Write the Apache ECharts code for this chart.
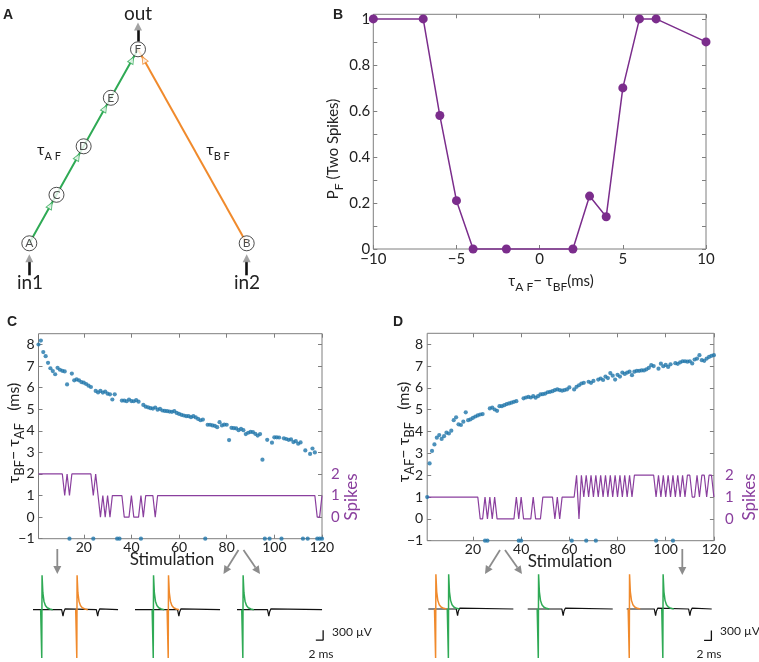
<!DOCTYPE html>
<html><head><meta charset="utf-8">
<script src="https://cdn.jsdelivr.net/npm/echarts@6/dist/echarts.min.js"></script>
<style>html,body{margin:0;padding:0;background:#fff}#c{width:759px;height:662px}</style>
</head><body><div id="c"></div>
<script>
// ================= DATA =================
// Panel A : network diagram (abstract diagram units)
const nodeNames = ['A', 'C', 'D', 'E', 'F', 'B'];
const nodeX = [0, 1, 2, 3, 4, 8];
const nodeY = [0, 1, 2, 3, 4, 0];
const greenPath = ['A', 'C', 'D', 'E', 'F'];
const orangePath = ['B', 'F'];
const greenHeadFrac = 0.78;   // arrowhead position along each green segment
const orangeHeadFrac = 0.947; // arrowhead position along B->F

// Panel B
const bX = [-10, -7, -6, -5, -4, -2, 2, 3, 4, 5, 6, 7, 10];
const bY = [1, 1, 0.58, 0.21, 0, 0, 0, 0.23, 0.14, 0.70, 1, 1, 0.9];
const bXTicks = [-10, -5, 0, 5, 10];
const bYTicks = [0, 0.1, 0.2, 0.3, 0.4, 0.5, 0.6, 0.7, 0.8, 0.9, 1];
const bYLabels = [0, 0.2, 0.4, 0.6, 0.8, 1];

// Panels C / D (stimulation 1..120)
const stimTicks = [20, 40, 60, 80, 100, 120];
const tauTicks = [-1, 0, 1, 2, 3, 4, 5, 6, 7, 8];
const spikeLabels = [0, 1, 2];
const cTau = [
 8.00, 8.18, 7.65, 7.46, 7.15, 6.90, 6.77, 6.62, 6.92, 6.83,
 6.78, 6.75, 6.15, -1, 6.65, 6.34, 6.38, 6.34, 6.26, 6.23,
 6.17, 6.09, 6.03, -1, 5.85, 5.78, 5.85, 5.77, 5.82, 5.72,
 5.69, 5.45, 5.69, -1, -1, 5.40, 5.40, 5.37, 5.45, 5.38,
 5.37, 5.42, 5.35, -1, 5.20, 5.12, 5.09, 5.05, 5.03, 5.08,
 4.98, 5.02, 4.94, 4.92, 4.91, 4.89, 4.88, 4.91, 4.83, 4.78,
 4.74, 4.71, 4.68, 4.68, 4.63, 4.68, 4.62, 4.55, 4.49, 4.52,
 -1, 4.28, 4.28, 4.25, 4.23, 4.17, 4.40, 4.25, 4.29, 4.28,
 3.57, 4.14, 4.12, 4.11, 4.03, 4.09, 4.03, 3.85, 3.91, 3.95,
 3.94, 3.86, 3.78, 3.85, 2.66, -1, 3.58, -1, 3.45, 3.70,
 3.70, 3.69, -1, 3.65, 3.62, 3.58, 3.60, 3.48, 3.52, 3.40,
 3.46, -1, 3.09, -1, 2.93, 3.18, 3.00, -1, -1, -1];
const cSpikes = [
 2,2,2,2,2,2,2,2,2,2,
 2,1,2,1,2,2,2,2,2,2,
 2,2,2,1,2,1,0,1,0,1,
 0,1,1,1,1,1,0,0,0,1,
 0,0,0,1,0,1,1,1,1,0,
 1,1,1,1,1,1,1,1,1,1,
 1,1,1,1,1,1,1,1,1,1,
 1,1,1,1,1,1,1,1,1,1,
 1,1,1,1,1,1,1,1,1,1,
 1,1,1,1,1,1,1,1,1,1,
 1,1,1,1,1,1,1,1,1,1,
 1,1,1,1,1,1,1,0,0,1];
const dTau = [
 1.00, 2.54, 3.11, 3.41, 3.72, 3.84, 3.66, 3.79, 3.95, 3.91,
 4.04, 4.52, 4.65, 4.33, 4.30, 4.45, 4.88, 4.52, 4.56, 4.63,
 4.69, 4.74, 4.78, 4.80, -1, -1, 5.06, 5.10, 5.01, 4.95,
 5.16, 5.16, 5.21, 5.26, 5.29, 5.32, 5.36, 5.39, -1, -1,
 5.52, 5.56, 5.59, 5.56, 5.62, 5.55, 5.62, 5.70, 5.71, 5.74,
 5.80, 5.82, 5.85, 5.90, 5.93, 5.90, 5.87, 5.90, 5.93, 6.02,
 -1, 5.93, 6.05, 6.12, 6.20, 6.23, -1, 6.28, 6.23, 6.32,
 -1, 6.38, 6.43, 6.36, 6.52, 6.45, 6.68, 6.56, 6.38, 6.60,
 6.52, 6.70, 6.64, 6.70, 6.74, 6.58, 6.74, 6.78, 6.78, 6.80,
 6.80, 6.85, 6.92, 7.04, 7.00, -1, 6.88, 7.11, 6.99, 7.05,
 6.96, 7.08, -1, 7.13, 7.10, 7.17, 7.22, 7.22, 7.20, 7.22,
 7.12, 7.30, 7.34, 7.50, 7.27, 7.24, 7.34, 7.42, 7.47, 7.50];
const dSpikes = [
 1,1,1,1,1,1,1,1,1,1,
 1,1,1,1,1,1,1,1,1,1,
 1,1,0,0,1,0,1,0,1,0,
 0,0,0,0,0,0,0,1,0,1,
 0,0,0,0,1,0,0,0,1,1,
 1,1,1,0,1,0,1,1,1,1,
 1,1,2,0,2,1,2,1,2,1,
 2,1,2,1,2,1,2,1,2,1,
 2,1,2,1,2,1,2,2,2,2,
 2,2,2,2,2,1,2,1,2,1,
 2,1,2,1,2,1,2,1,2,2,
 1,1,2,1,2,2,1,2,2,1];

// Extracellular traces (time in ms, voltage in µV)
const traceLen = 23.3;
const spikeShapeT = [-0.3, -0.12, 0, 0.08, 0.3, 0.6, 1.0, 1.5, 2.2, 3.0];
const spikeShapeV = [0, -40, -1480, 1050, 520, 260, 130, 60, 20, 0];
const blipShapeT = [-0.25, 0, 0.12, 0.35, 0.7, 1.1];
const blipShapeV = [0, -30, -200, -60, 25, 0];
const tracesC = [
  {spikes: [[2.4, 'green'], [12.0, 'orange']], blips: [8.1, 17.6]},
  {spikes: [[5.0, 'green'], [9.1, 'orange']], blips: [11.9]},
  {spikes: [[1.6, 'green']], blips: [8.6]}
];
const tracesD = [
  {spikes: [[2.0, 'orange'], [5.5, 'green']], blips: [7.9]},
  {spikes: [[2.9, 'green']], blips: [9.6]},
  {spikes: [[0.7, 'orange'], [9.9, 'green']], blips: [7.8, 17.2]}
];
const scaleBarMs = 2, scaleBarUv = 300;

// ================= STYLE / LAYOUT =================
const FONT = 'Lato, "Noto Sans", sans-serif';
const GRAY = '#7f7f7f';
const PURPLE = '#7b2d8c';
const SPK = '#8a3f9e';
const BLUE = '#1f76aa';
const GREEN = '#2faa55';
const ORANGE = '#f08a2c';
const colorOf = {green: GREEN, orange: ORANGE};
const minus = v => String(v).replace('-', '\u2212');

const grids = [
  {left: 29.3, top: 49.3, width: 217.4, height: 194},          // 0 A
  {left: 373.3, top: 14.3, width: 332.7, height: 234.7},       // 1 B
  {left: 38.5, top: 333.7, width: 283.5, height: 205},         // 2 C
  {left: 427.2, top: 333.3, width: 286.7, height: 207.4}       // 3 D
];
const pxPerMs = 3.65, uvPx = 10 / 300;
const traceLeftC = [33, 135, 237], traceLeftD = [428.3, 527.7, 626.7];
const baseC = 610.7, baseD = 609.3;
const tMax = 24, vRange = 1600;
function traceGrid(left, base) {
  return {left: left, top: base - vRange * uvPx, width: tMax * pxPerMs, height: 2 * vRange * uvPx};
}
traceLeftC.forEach(l => grids.push(traceGrid(l, baseC)));
traceLeftD.forEach(l => grids.push(traceGrid(l, baseD)));
grids.forEach((g, i) => { g.show = (i >= 1 && i <= 3); g.borderColor = GRAY; g.borderWidth = 1; g.backgroundColor = 'transparent'; });

function tickAxis(gi, pos, min, max, ticks, labels, labelStyle) {
  return {
    type: 'value', gridIndex: gi, position: pos, min: min, max: max,
    axisLine: {show: false, onZero: false}, splitLine: {show: false},
    axisTick: {show: true, inside: true, length: 4, customValues: ticks, lineStyle: {color: GRAY}},
    axisLabel: Object.assign({show: !!labels, customValues: labels || [], fontFamily: FONT, color: '#222', formatter: minus}, labelStyle || {})
  };
}
const hidden = (gi, min, max) => ({type: 'value', gridIndex: gi, show: false, min: min, max: max, axisLine: {onZero: false}});

const xAxes = [
  hidden(0, 0, 8),
  tickAxis(1, 'bottom', -10, 10, bXTicks, bXTicks, {fontSize: 15, margin: 3}),
  tickAxis(1, 'top', -10, 10, bXTicks, null),
  tickAxis(2, 'bottom', 1, 120, stimTicks, stimTicks, {fontSize: 14, margin: 2}),
  tickAxis(2, 'top', 1, 120, stimTicks, null),
  tickAxis(3, 'bottom', 1, 120, stimTicks, stimTicks, {fontSize: 14, margin: 2}),
  tickAxis(3, 'top', 1, 120, stimTicks, null)
];
const yAxes = [
  hidden(0, 0, 4),
  tickAxis(1, 'left', 0, 1.02, bYTicks, bYLabels, {fontSize: 15, margin: 3}),
  tickAxis(1, 'right', 0, 1.02, bYTicks, null),
  tickAxis(2, 'left', -1, 8.5, tauTicks, tauTicks, {fontSize: 14, margin: 4}),
  tickAxis(2, 'right', -1, 8.5, tauTicks, spikeLabels, {fontSize: 15, margin: 9, color: SPK}),
  tickAxis(3, 'left', -1, 8.5, tauTicks, tauTicks, {fontSize: 14, margin: 4}),
  tickAxis(3, 'right', -1, 8.5, tauTicks, spikeLabels, {fontSize: 15, margin: 11, color: SPK})
];
for (let k = 0; k < 6; k++) { xAxes.push(hidden(4 + k, 0, tMax)); yAxes.push(hidden(4 + k, -vRange, vRange)); }

// ================= SERIES =================
const series = [];
const nodePos = n => { const i = nodeNames.indexOf(n); return [nodeX[i], nodeY[i]]; };
// Panel A
series.push({type: 'line', xAxisIndex: 0, yAxisIndex: 0, data: greenPath.map(nodePos), symbol: 'none', clip: false,
  lineStyle: {color: GREEN, width: 2}, z: 1});
series.push({type: 'line', xAxisIndex: 0, yAxisIndex: 0, data: orangePath.map(nodePos), symbol: 'none', clip: false,
  lineStyle: {color: ORANGE, width: 2}, z: 1});
const heads = [];
for (let i = 0; i < greenPath.length - 1; i++) {
  const a = nodePos(greenPath[i]), b = nodePos(greenPath[i + 1]);
  heads.push({value: [a[0] + (b[0] - a[0]) * greenHeadFrac, a[1] + (b[1] - a[1]) * greenHeadFrac], symbolRotate: -29.2,
    itemStyle: {color: '#fff', borderColor: GREEN, borderWidth: 1}});
}
{ const a = nodePos(orangePath[0]), b = nodePos(orangePath[1]);
  heads.push({value: [a[0] + (b[0] - a[0]) * orangeHeadFrac, a[1] + (b[1] - a[1]) * orangeHeadFrac], symbolRotate: 29.3,
    itemStyle: {color: '#fff', borderColor: ORANGE, borderWidth: 1}}); }
series.push({type: 'scatter', xAxisIndex: 0, yAxisIndex: 0, data: heads, symbol: 'triangle', symbolSize: [6, 7], clip: false, z: 2});
series.push({type: 'scatter', xAxisIndex: 0, yAxisIndex: 0, clip: false, z: 3,
  data: nodeNames.map((n, i) => ({name: n, value: [nodeX[i], nodeY[i]]})),
  symbol: 'circle', symbolSize: 15, itemStyle: {color: '#fff', borderColor: '#222', borderWidth: 1},
  label: {show: true, position: 'inside', formatter: '{b}', fontFamily: FONT, fontSize: 12, color: '#222'}});
// input / output arrows of the diagram
const ioShafts = [[[4, 4.16], [4, 4.40]], [[0, -0.66], [0, -0.38]], [[8, -0.66], [8, -0.38]]];
series.push({type: 'lines', coordinateSystem: 'cartesian2d', xAxisIndex: 0, yAxisIndex: 0, clip: false, z: 2,
  data: ioShafts.map(c => ({coords: c})), lineStyle: {color: '#111', width: 2.6, opacity: 1}});
series.push({type: 'scatter', xAxisIndex: 0, yAxisIndex: 0, clip: false, z: 3, symbol: 'triangle', symbolSize: [8, 8],
  itemStyle: {color: '#8c8c8c'}, data: ioShafts.map(c => [c[1][0], c[1][1] + 0.07])});

// Panel B
series.push({type: 'line', xAxisIndex: 1, yAxisIndex: 1, data: bX.map((x, i) => [x, bY[i]]), clip: false,
  symbol: 'circle', symbolSize: 9, lineStyle: {color: PURPLE, width: 1.5}, itemStyle: {color: PURPLE}});

// Panels C / D
function panelSeries(xi, yi, tau, spikes) {
  series.push({type: 'line', xAxisIndex: xi, yAxisIndex: yi, data: spikes.map((v, i) => [i + 1, v]),
    symbol: 'none', lineStyle: {color: SPK, width: 1.2}, z: 2});
  series.push({type: 'scatter', xAxisIndex: xi, yAxisIndex: yi, data: tau.map((v, i) => [i + 1, v]), clip: false,
    symbolSize: 4.2, itemStyle: {color: BLUE}, z: 3});
}
panelSeries(3, 3, cTau, cSpikes);
panelSeries(5, 5, dTau, dSpikes);

// Traces
function traceSeries(tr, ai, bar) {
  const pts = [[0, 0]];
  tr.blips.slice().sort((a, b) => a - b).forEach(b => blipShapeT.forEach((dt, k) => pts.push([b + dt, blipShapeV[k]])));
  pts.push([traceLen, 0]);
  series.push({type: 'line', xAxisIndex: ai, yAxisIndex: ai, data: pts, symbol: 'none', clip: false,
    lineStyle: {color: '#111', width: 1.2}, z: 2});
  tr.spikes.forEach(s => {
    series.push({type: 'line', xAxisIndex: ai, yAxisIndex: ai, data: spikeShapeT.map((dt, k) => [s[0] + dt, spikeShapeV[k]]),
      symbol: 'none', clip: false, lineStyle: {color: colorOf[s[1]], width: 1.5}, z: 3});
  });
  if (bar) {
    series.push({type: 'line', xAxisIndex: ai, yAxisIndex: ai, symbol: 'none', clip: false, z: 3,
      lineStyle: {color: '#111', width: 1.3},
      data: [[bar[0], bar[1]], [bar[0] + scaleBarMs, bar[1]], [bar[0] + scaleBarMs, bar[1] + scaleBarUv]]});
  }
}
tracesC.forEach((tr, k) => traceSeries(tr, 7 + k, k === 2 ? [21.6, -930] : null));
tracesD.forEach((tr, k) => traceSeries(tr, 10 + k, k === 2 ? [21.2, -950] : null));

// ================= TEXT / ANNOTATIONS =================
const txt = (x, y, text, size, extra) => Object.assign({type: 'text', x: x, y: y, silent: true,
  style: Object.assign({text: text, fontFamily: FONT, fontSize: size, fill: '#222', align: 'center', verticalAlign: 'middle'}, (extra && extra.style) || {})},
  extra ? {rotation: extra.rotation || 0} : {});
const subRich = (big, small, col) => ({
  t: {fontSize: big, fontFamily: FONT, fill: col || '#222', lineHeight: 24, verticalAlign: 'middle'},
  s: {fontSize: small, fontFamily: FONT, fill: col || '#222', lineHeight: 24, verticalAlign: 'bottom'}
});
const bold = {style: {fontFamily: '"Liberation Sans", Arial, sans-serif', fontWeight: 'bold'}};
const graphic = [
  txt(8, 15, 'A', 14, bold), txt(338, 15, 'B', 14, bold), txt(12, 322, 'C', 14, bold), txt(398, 322, 'D', 14, bold),
  txt(138, 14, 'out', 19), txt(30, 283, 'in1', 19), txt(247, 283, 'in2', 19),
  txt(49, 150, '{t|τ}{s|A F}', 16, {style: {rich: subRich(16, 11)}}),
  txt(218, 150, '{t|τ}{s|B F}', 16, {style: {rich: subRich(16, 11)}}),
  txt(333, 149, '{t|P}{s|F}{t| (Two Spikes)}', 15, {rotation: Math.PI / 2, style: {rich: subRich(15, 12)}}),
  txt(551, 281, '{t|τ}{s|A F}{t|− τ}{s|BF}{t|(ms)}', 15, {style: {rich: subRich(15, 12)}}),
  txt(14, 433, '{t|τ}{s|BF}{t|− τ}{s|AF}{t|   (ms)}', 16, {rotation: Math.PI / 2, style: {rich: subRich(16, 13)}}),
  txt(404, 432, '{t|τ}{s|AF}{t|− τ}{s|BF}{t|   (ms)}', 16, {rotation: Math.PI / 2, style: {rich: subRich(16, 13)}}),
  txt(352, 497, 'Spikes', 17, {rotation: Math.PI / 2, style: {fill: SPK}}),
  txt(750, 497, 'Spikes', 17, {rotation: Math.PI / 2, style: {fill: SPK}}),
  txt(172, 560, 'Stimulation', 17), txt(570, 562, 'Stimulation', 17),
  txt(332, 632, '300 µV', 12, {style: {align: 'left'}}), txt(321, 654, '2 ms', 12),
  txt(720, 631, '300 µV', 12, {style: {align: 'left'}}), txt(709, 654, '2 ms', 12)
];
function arrow(x1, y1, x2, y2) {
  const ang = Math.atan2(y2 - y1, x2 - x1), L = 8, W = 4;
  const bx = x2 - L * Math.cos(ang), by = y2 - L * Math.sin(ang);
  const px = -Math.sin(ang) * W, py = Math.cos(ang) * W;
  graphic.push({type: 'line', silent: true, shape: {x1: x1, y1: y1, x2: bx, y2: by}, style: {stroke: '#8c8c8c', lineWidth: 1.8}});
  graphic.push({type: 'polygon', silent: true, shape: {points: [[x2, y2], [bx + px, by + py], [bx - px, by - py]]}, style: {fill: '#8c8c8c'}});
}
arrow(57.3, 549, 57.3, 574);
arrow(238.5, 550, 223.5, 574);
arrow(243.5, 550, 260, 574);
arrow(500, 550, 485, 574);
arrow(505, 550, 522, 574);
arrow(682.3, 549, 682.3, 575);

const chart = echarts.init(document.getElementById('c'));
chart.setOption({animation: false, backgroundColor: '#fff', grid: grids, xAxis: xAxes, yAxis: yAxes, series: series, graphic: graphic});
</script></body></html>
